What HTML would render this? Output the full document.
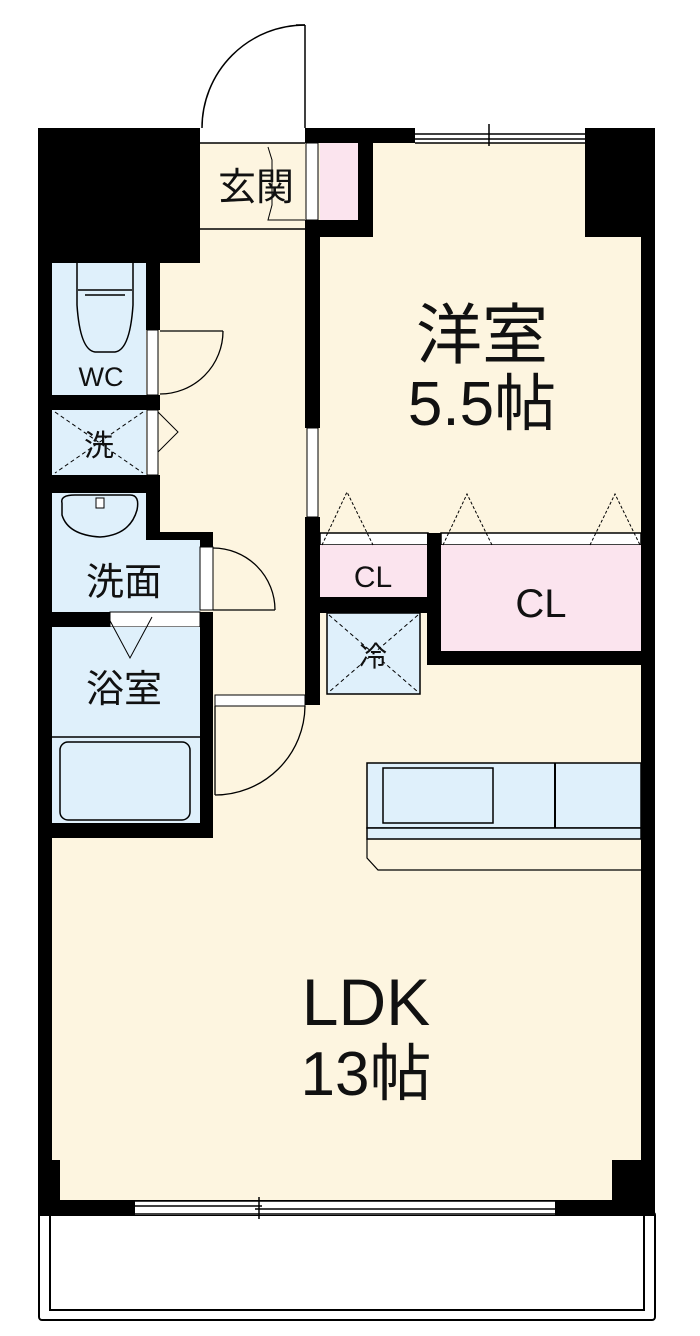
<!DOCTYPE html>
<html><head><meta charset="utf-8"><style>
html,body{margin:0;padding:0;background:#fff;width:700px;height:1336px;overflow:hidden}
text{font-family:"Liberation Sans","Noto Sans CJK JP",sans-serif;fill:#111}
</style></head><body>
<svg width="700" height="1336" viewBox="0 0 700 1336" xmlns="http://www.w3.org/2000/svg">
<rect x="39" y="1212" width="616" height="108" fill="none" stroke="#000" stroke-width="2" rx="3"/>
<rect x="50" y="1212" width="594" height="98" fill="none" stroke="#000" stroke-width="2"/>
<rect x="38" y="128" width="617" height="1088" fill="#000"/>
<rect x="52" y="143" width="589" height="1057" fill="#fdf5e0"/>
<rect x="200" y="128" width="105" height="15" fill="#fff"/>
<line x1="200" y1="143" x2="305" y2="143" stroke="#000" stroke-width="1.5"/>
<line x1="200" y1="229" x2="305" y2="229" stroke="#000" stroke-width="1.5"/>
<path d="M305 25 L305 128 M305 25 A103 103 0 0 0 202 128" fill="none" stroke="#000" stroke-width="1.5"/>
<line x1="296" y1="25" x2="305" y2="25" stroke="#000" stroke-width="1.5"/>
<rect x="38" y="128" width="162" height="135" fill="#000"/>
<rect x="305" y="128" width="70" height="15" fill="#000"/>
<rect x="305" y="220" width="68" height="17" fill="#000"/>
<rect x="358" y="143" width="15" height="94" fill="#000"/>
<rect x="320" y="143" width="38" height="77" fill="#fbe4ee"/>
<rect x="306" y="143" width="12" height="77" fill="#fff" stroke="#000" stroke-width="1"/>
<rect x="305" y="237" width="15" height="191" fill="#000"/>
<rect x="307" y="428" width="11" height="89" fill="#fff" stroke="#000" stroke-width="1"/>
<rect x="305" y="517" width="15" height="188" fill="#000"/>
<path d="M268 147 L272 160 L272 205 L268 220 L305 220" fill="none" stroke="#000" stroke-width="1"/>
<text x="256" y="200" font-size="38" text-anchor="middle">玄関</text>
<rect x="320" y="237" width="321" height="296" fill="#fdf5e0"/>
<rect x="373" y="143" width="212" height="94" fill="#fdf5e0"/>
<rect x="415" y="128" width="170" height="15" fill="#fff"/>
<line x1="415" y1="134" x2="585" y2="134" stroke="#000" stroke-width="1.5"/>
<line x1="415" y1="139" x2="585" y2="139" stroke="#000" stroke-width="1.5"/>
<line x1="415" y1="143" x2="585" y2="143" stroke="#000" stroke-width="1.5"/>
<line x1="489" y1="124" x2="489" y2="146" stroke="#000" stroke-width="1.5"/>
<rect x="585" y="128" width="56" height="109" fill="#000"/>
<text x="482" y="358" font-size="66" text-anchor="middle">洋室</text>
<text x="482" y="425" font-size="62" text-anchor="middle">5.5帖</text>
<rect x="320" y="533" width="108" height="12" fill="#fff" stroke="#000" stroke-width="1.5"/>
<rect x="441" y="533" width="200" height="12" fill="#fff" stroke="#000" stroke-width="1.5"/>
<rect x="427" y="533" width="14" height="132" fill="#000"/>
<rect x="320" y="545" width="107" height="52" fill="#fbe4ee"/>
<rect x="320" y="597" width="108" height="16" fill="#000"/>
<rect x="441" y="545" width="200" height="106" fill="#fbe4ee"/>
<rect x="427" y="651" width="228" height="14" fill="#000"/>
<g fill="none" stroke="#000" stroke-width="1" stroke-dasharray="3,2">
<path d="M322 545 L347 492 L373 545"/><path d="M443 545 L467 494 L492 545"/><path d="M590 545 L615 494 L640 545"/>
</g>
<text x="373" y="587" font-size="30" text-anchor="middle">CL</text>
<text x="541" y="617" font-size="40" text-anchor="middle">CL</text>
<rect x="327" y="613" width="93" height="81" fill="#dff0fb" stroke="#000" stroke-width="1.5"/>
<path d="M329 615 L418 692 M418 615 L329 692" stroke="#000" stroke-width="1" stroke-dasharray="4,3"/>
<text x="373" y="666" font-size="28" text-anchor="middle">冷</text>
<rect x="52" y="263" width="94" height="132" fill="#dff0fb"/>
<rect x="146" y="263" width="14" height="67" fill="#000"/>
<rect x="147" y="330" width="11" height="65" fill="#fff" stroke="#000" stroke-width="1"/>
<path d="M160 331 L223 331 M223 331 A63 63 0 0 1 160 394" fill="none" stroke="#000" stroke-width="1.3"/>
<path d="M77 263 L77 305 Q80 350 95 352 L115 352 Q130 350 133 305 L133 263" fill="#dff0fb" stroke="#000" stroke-width="1.5"/>
<line x1="78" y1="290" x2="132" y2="290" stroke="#000" stroke-width="1.5"/>
<line x1="85" y1="295" x2="125" y2="295" stroke="#000" stroke-width="1.5"/>
<text x="101" y="386" font-size="27" text-anchor="middle">WC</text>
<rect x="38" y="395" width="122" height="15" fill="#000"/>
<rect x="52" y="410" width="94" height="65" fill="#dff0fb"/>
<path d="M55 412 L143 473 M143 412 L55 473" stroke="#000" stroke-width="1" stroke-dasharray="4,3"/>
<text x="99" y="456" font-size="30" text-anchor="middle">洗</text>
<rect x="147" y="410" width="11" height="65" fill="#fff" stroke="#000" stroke-width="1"/>
<path d="M158 412 L178 432 L158 452" fill="none" stroke="#000" stroke-width="1"/>
<rect x="146" y="475" width="14" height="72" fill="#000"/>
<rect x="38" y="475" width="122" height="18" fill="#000"/>
<rect x="52" y="493" width="94" height="47" fill="#dff0fb"/>
<path d="M62 503 Q60 495 75 495 L130 495 Q140 495 137 510 Q130 535 100 537 Q68 535 62 515 Z" fill="#dff0fb" stroke="#000" stroke-width="1.5"/>
<rect x="96" y="498" width="8" height="10" fill="#fff" stroke="#000" stroke-width="1"/>
<rect x="146" y="532" width="67" height="15" fill="#000"/>
<rect x="52" y="540" width="148" height="72" fill="#dff0fb"/>
<rect x="200" y="547" width="13" height="63" fill="#fff" stroke="#000" stroke-width="1"/>
<path d="M213 610 L275 610 M275 610 A62 62 0 0 0 213 548" fill="none" stroke="#000" stroke-width="1.3"/>
<text x="124" y="595" font-size="38" text-anchor="middle">洗面</text>
<rect x="38" y="612" width="72" height="15" fill="#000"/>
<rect x="110" y="612" width="90" height="15" fill="#fff" stroke="#000" stroke-width="1"/>
<rect x="200" y="612" width="13" height="226" fill="#000"/>
<rect x="52" y="627" width="148" height="196" fill="#dff0fb"/>
<path d="M108 617 L130 658 L152 617" fill="none" stroke="#000" stroke-width="1"/>
<text x="124" y="702" font-size="38" text-anchor="middle">浴室</text>
<line x1="52" y1="737" x2="200" y2="737" stroke="#000" stroke-width="1.5"/>
<rect x="60" y="742" width="130" height="78" rx="8" fill="#dff0fb" stroke="#000" stroke-width="1.5"/>
<rect x="38" y="823" width="175" height="15" fill="#000"/>
<rect x="215" y="695" width="90" height="11" fill="#fff" stroke="#000" stroke-width="1"/>
<path d="M215 706 L215 795 M305 706 A90 90 0 0 1 215 795" fill="none" stroke="#000" stroke-width="1.3"/>
<rect x="367" y="763" width="274" height="65" fill="#dff0fb" stroke="#000" stroke-width="1.5"/>
<rect x="383" y="768" width="110" height="55" fill="#dff0fb" stroke="#000" stroke-width="1.5"/>
<line x1="555" y1="763" x2="555" y2="828" stroke="#000" stroke-width="2"/>
<rect x="367" y="828" width="274" height="11" fill="#dff0fb" stroke="#000" stroke-width="1.5"/>
<path d="M367 839 L367 858 L378 870 L641 870" fill="none" stroke="#000" stroke-width="1.2"/>
<text x="366" y="1025" font-size="66" text-anchor="middle">LDK</text>
<text x="366" y="1095" font-size="62" text-anchor="middle">13帖</text>
<rect x="38" y="1160" width="22" height="56" fill="#000"/>
<rect x="612" y="1160" width="43" height="56" fill="#000"/>
<rect x="60" y="1200" width="552" height="16" fill="#000"/>
<rect x="135" y="1201" width="420" height="14" fill="#fff"/>
<line x1="135" y1="1201" x2="555" y2="1201" stroke="#000" stroke-width="1.5"/>
<line x1="135" y1="1206" x2="262" y2="1206" stroke="#000" stroke-width="1.5"/>
<line x1="255" y1="1209" x2="555" y2="1209" stroke="#000" stroke-width="1.5"/>
<line x1="135" y1="1214" x2="555" y2="1214" stroke="#000" stroke-width="1.5"/>
<line x1="259" y1="1197" x2="259" y2="1219" stroke="#000" stroke-width="1.5"/>
</svg>
</body></html>
